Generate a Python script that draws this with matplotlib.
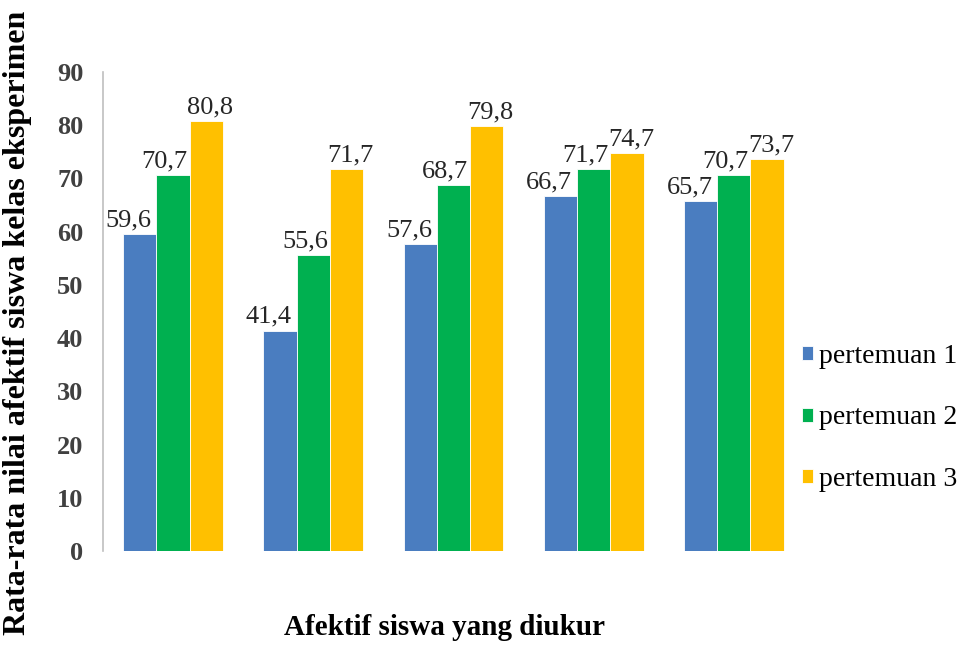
import matplotlib
matplotlib.use('Agg')
import matplotlib.pyplot as plt
import numpy as np

plt.rcParams['font.family'] = ['Liberation Serif', 'DejaVu Serif']

# dane z wykresu
kategori = ['1', '2', '3', '4', '5']
pertemuan_1 = [59.6, 41.4, 57.6, 66.7, 65.7]
pertemuan_2 = [70.7, 55.6, 68.7, 71.7, 70.7]
pertemuan_3 = [80.8, 71.7, 79.8, 74.7, 73.7]
nama_seri = ['pertemuan 1', 'pertemuan 2', 'pertemuan 3']
warna = ['#4A7DC0', '#00B050', '#FFC000']

fig = plt.figure(figsize=(9.71, 6.46), dpi=100)
ax = fig.add_axes([0.106, 0.147, 0.722, 0.7415])

x = np.arange(len(kategori))
w = 0.237
seri = [pertemuan_1, pertemuan_2, pertemuan_3]
geser = [-8, -6, 3]  # pergeseran label (points)

for i, (vals, nama, c) in enumerate(zip(seri, nama_seri, warna)):
    pos = x + (i - 1) * w
    ax.bar(pos, vals, width=w, color=c, label=nama, edgecolor='white', linewidth=0.6)
    for p, v in zip(pos, vals):
        ax.annotate(f'{v:.1f}'.replace('.', ','), (p, v), xytext=(geser[i], 2),
                    textcoords='offset points', ha='center', va='bottom',
                    fontsize=19, color='#262626')

ax.set_xlim(-0.5, 4.5)
ax.set_ylim(0, 90)
ax.set_yticks(range(0, 91, 10))
ax.set_xticks([])
ax.tick_params(axis='y', length=0, pad=14, labelsize=19, labelcolor='#404040')
for lbl in ax.get_yticklabels():
    lbl.set_fontweight('bold')

for s in ['top', 'right', 'bottom']:
    ax.spines[s].set_visible(False)
ax.spines['left'].set_color('#BFBFBF')
ax.spines['left'].set_linewidth(1.2)

fig.text(0.018, 0.5, 'Rata-rata nilai afektif siswa kelas eksperimen',
         rotation=90, ha='center', va='center', fontsize=23, fontweight='bold')
fig.text(0.458, 0.028, 'Afektif siswa yang diukur', ha='center', va='center',
         fontsize=21, fontweight='bold')

fig.legend(loc='center left', bbox_to_anchor=(0.826, 0.353), frameon=False,
           fontsize=20, handlelength=0.4, handleheight=0.4, handletextpad=0.2,
           labelspacing=1.3, borderpad=0, borderaxespad=0)

plt.savefig('out.png', dpi=100)
